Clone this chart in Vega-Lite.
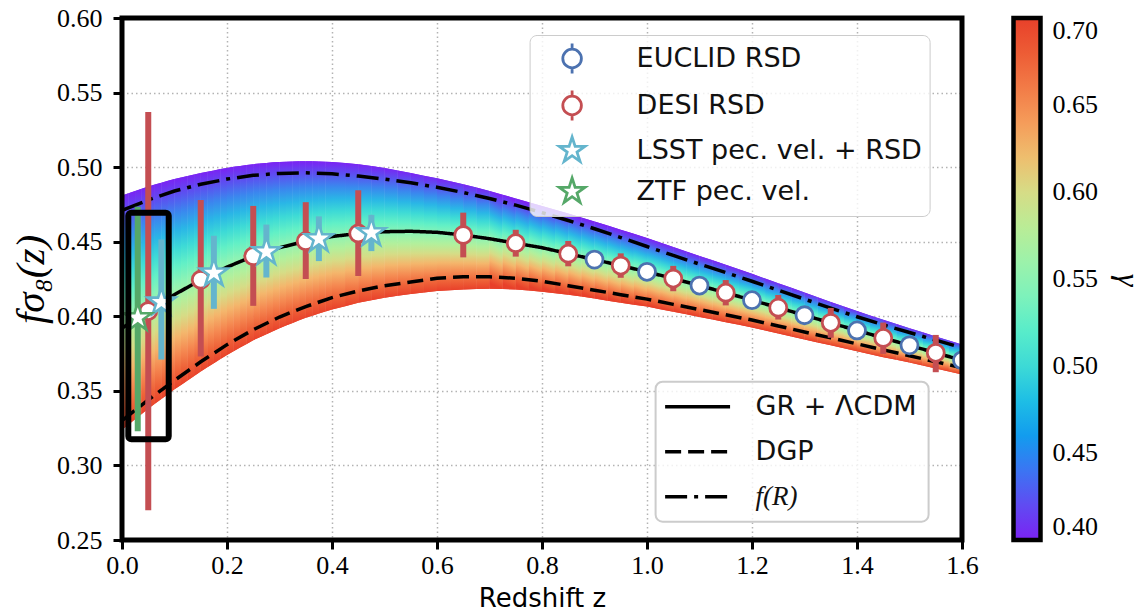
{
  "$schema": "https://vega.github.io/schema/vega-lite/v6.json",
  "width": 840,
  "height": 522,
  "autosize": {"type": "none"},
  "padding": {"left": 122, "top": 18, "right": 185, "bottom": 73},
  "background": "white",
  "config": {
    "view": {"stroke": null},
    "axis": {
      "domain": false,
      "grid": true,
      "gridColor": "#b3b3b3",
      "gridDash": [1.5, 3],
      "gridWidth": 1.5,
      "tickColor": "black",
      "tickWidth": 3,
      "tickSize": 9,
      "labelFont": "Liberation Serif",
      "labelFontSize": 26,
      "labelColor": "black",
      "labelFlush": false,
      "labelOverlap": false,
      "titleColor": "black"
    }
  },
  "datasets": {
    "band": [
      {"s": 0, "z": 0, "t": 0.481, "b": 0.324}, {"s": 0, "z": 0.0125, "t": 0.4825, "b": 0.3275},
      {"s": 1, "z": 0.0125, "t": 0.4825, "b": 0.3275}, {"s": 1, "z": 0.025, "t": 0.484, "b": 0.331},
      {"s": 2, "z": 0.025, "t": 0.484, "b": 0.331}, {"s": 2, "z": 0.0375, "t": 0.4855, "b": 0.3345},
      {"s": 3, "z": 0.0375, "t": 0.4855, "b": 0.3345}, {"s": 3, "z": 0.05, "t": 0.487, "b": 0.338},
      {"s": 4, "z": 0.05, "t": 0.487, "b": 0.338}, {"s": 4, "z": 0.0625, "t": 0.4883, "b": 0.3413},
      {"s": 5, "z": 0.0625, "t": 0.4883, "b": 0.3413}, {"s": 5, "z": 0.075, "t": 0.4895, "b": 0.3445},
      {"s": 6, "z": 0.075, "t": 0.4895, "b": 0.3445}, {"s": 6, "z": 0.0875, "t": 0.4908, "b": 0.3478},
      {"s": 7, "z": 0.0875, "t": 0.4908, "b": 0.3478}, {"s": 7, "z": 0.1, "t": 0.492, "b": 0.351},
      {"s": 8, "z": 0.1, "t": 0.492, "b": 0.351}, {"s": 8, "z": 0.1125, "t": 0.493, "b": 0.354},
      {"s": 9, "z": 0.1125, "t": 0.493, "b": 0.354}, {"s": 9, "z": 0.125, "t": 0.494, "b": 0.357},
      {"s": 10, "z": 0.125, "t": 0.494, "b": 0.357}, {"s": 10, "z": 0.1375, "t": 0.495, "b": 0.36},
      {"s": 11, "z": 0.1375, "t": 0.495, "b": 0.36}, {"s": 11, "z": 0.15, "t": 0.496, "b": 0.363},
      {"s": 12, "z": 0.15, "t": 0.496, "b": 0.363}, {"s": 12, "z": 0.1625, "t": 0.4969, "b": 0.3658},
      {"s": 13, "z": 0.1625, "t": 0.4969, "b": 0.3658}, {"s": 13, "z": 0.175, "t": 0.4978, "b": 0.3685},
      {"s": 14, "z": 0.175, "t": 0.4978, "b": 0.3685}, {"s": 14, "z": 0.1875, "t": 0.4987, "b": 0.3713},
      {"s": 15, "z": 0.1875, "t": 0.4987, "b": 0.3713}, {"s": 15, "z": 0.2, "t": 0.4995, "b": 0.374},
      {"s": 16, "z": 0.2, "t": 0.4995, "b": 0.374}, {"s": 16, "z": 0.2125, "t": 0.5002, "b": 0.3765},
      {"s": 17, "z": 0.2125, "t": 0.5002, "b": 0.3765}, {"s": 17, "z": 0.225, "t": 0.5008, "b": 0.379},
      {"s": 18, "z": 0.225, "t": 0.5008, "b": 0.379}, {"s": 18, "z": 0.2375, "t": 0.5014, "b": 0.3815},
      {"s": 19, "z": 0.2375, "t": 0.5014, "b": 0.3815}, {"s": 19, "z": 0.25, "t": 0.502, "b": 0.384},
      {"s": 20, "z": 0.25, "t": 0.502, "b": 0.384}, {"s": 20, "z": 0.2625, "t": 0.5024, "b": 0.386},
      {"s": 21, "z": 0.2625, "t": 0.5024, "b": 0.386}, {"s": 21, "z": 0.275, "t": 0.5028, "b": 0.388},
      {"s": 22, "z": 0.275, "t": 0.5028, "b": 0.388}, {"s": 22, "z": 0.2875, "t": 0.5032, "b": 0.39},
      {"s": 23, "z": 0.2875, "t": 0.5032, "b": 0.39}, {"s": 23, "z": 0.3, "t": 0.5035, "b": 0.392},
      {"s": 24, "z": 0.3, "t": 0.5035, "b": 0.392}, {"s": 24, "z": 0.3125, "t": 0.5037, "b": 0.3938},
      {"s": 25, "z": 0.3125, "t": 0.5037, "b": 0.3938}, {"s": 25, "z": 0.325, "t": 0.5038, "b": 0.3955},
      {"s": 26, "z": 0.325, "t": 0.5038, "b": 0.3955}, {"s": 26, "z": 0.3375, "t": 0.5039, "b": 0.3973},
      {"s": 27, "z": 0.3375, "t": 0.5039, "b": 0.3973}, {"s": 27, "z": 0.35, "t": 0.504, "b": 0.399},
      {"s": 28, "z": 0.35, "t": 0.504, "b": 0.399}, {"s": 28, "z": 0.3625, "t": 0.5039, "b": 0.4004},
      {"s": 29, "z": 0.3625, "t": 0.5039, "b": 0.4004}, {"s": 29, "z": 0.375, "t": 0.5038, "b": 0.4018},
      {"s": 30, "z": 0.375, "t": 0.5038, "b": 0.4018}, {"s": 30, "z": 0.3875, "t": 0.5037, "b": 0.4032},
      {"s": 31, "z": 0.3875, "t": 0.5037, "b": 0.4032}, {"s": 31, "z": 0.4, "t": 0.5035, "b": 0.4045},
      {"s": 32, "z": 0.4, "t": 0.5035, "b": 0.4045}, {"s": 32, "z": 0.425, "t": 0.5028, "b": 0.4068},
      {"s": 33, "z": 0.425, "t": 0.5028, "b": 0.4068}, {"s": 33, "z": 0.45, "t": 0.502, "b": 0.409},
      {"s": 34, "z": 0.45, "t": 0.502, "b": 0.409}, {"s": 34, "z": 0.475, "t": 0.5008, "b": 0.4108},
      {"s": 35, "z": 0.475, "t": 0.5008, "b": 0.4108}, {"s": 35, "z": 0.5, "t": 0.4995, "b": 0.4125},
      {"s": 36, "z": 0.5, "t": 0.4995, "b": 0.4125}, {"s": 36, "z": 0.525, "t": 0.4978, "b": 0.4138},
      {"s": 37, "z": 0.525, "t": 0.4978, "b": 0.4138}, {"s": 37, "z": 0.55, "t": 0.496, "b": 0.415},
      {"s": 38, "z": 0.55, "t": 0.496, "b": 0.415}, {"s": 38, "z": 0.575, "t": 0.4943, "b": 0.416},
      {"s": 39, "z": 0.575, "t": 0.4943, "b": 0.416}, {"s": 39, "z": 0.6, "t": 0.4925, "b": 0.417},
      {"s": 40, "z": 0.6, "t": 0.4925, "b": 0.417}, {"s": 40, "z": 0.625, "t": 0.4905, "b": 0.4175},
      {"s": 41, "z": 0.625, "t": 0.4905, "b": 0.4175}, {"s": 41, "z": 0.65, "t": 0.4885, "b": 0.418},
      {"s": 42, "z": 0.65, "t": 0.4885, "b": 0.418}, {"s": 42, "z": 0.675, "t": 0.4863, "b": 0.4183},
      {"s": 43, "z": 0.675, "t": 0.4863, "b": 0.4183}, {"s": 43, "z": 0.7, "t": 0.484, "b": 0.4185},
      {"s": 44, "z": 0.7, "t": 0.484, "b": 0.4185}, {"s": 44, "z": 0.725, "t": 0.4815, "b": 0.4183},
      {"s": 45, "z": 0.725, "t": 0.4815, "b": 0.4183}, {"s": 45, "z": 0.75, "t": 0.479, "b": 0.418},
      {"s": 46, "z": 0.75, "t": 0.479, "b": 0.418}, {"s": 46, "z": 0.775, "t": 0.4765, "b": 0.4173},
      {"s": 47, "z": 0.775, "t": 0.4765, "b": 0.4173}, {"s": 47, "z": 0.8, "t": 0.474, "b": 0.4165},
      {"s": 48, "z": 0.8, "t": 0.474, "b": 0.4165}, {"s": 48, "z": 0.825, "t": 0.4715, "b": 0.4155},
      {"s": 49, "z": 0.825, "t": 0.4715, "b": 0.4155}, {"s": 49, "z": 0.85, "t": 0.469, "b": 0.4145},
      {"s": 50, "z": 0.85, "t": 0.469, "b": 0.4145}, {"s": 50, "z": 0.875, "t": 0.4663, "b": 0.4133},
      {"s": 51, "z": 0.875, "t": 0.4663, "b": 0.4133}, {"s": 51, "z": 0.9, "t": 0.4635, "b": 0.412},
      {"s": 52, "z": 0.9, "t": 0.4635, "b": 0.412}, {"s": 52, "z": 0.925, "t": 0.4608, "b": 0.4105},
      {"s": 53, "z": 0.925, "t": 0.4608, "b": 0.4105}, {"s": 53, "z": 0.95, "t": 0.458, "b": 0.409},
      {"s": 54, "z": 0.95, "t": 0.458, "b": 0.409}, {"s": 54, "z": 0.975, "t": 0.4553, "b": 0.4078},
      {"s": 55, "z": 0.975, "t": 0.4553, "b": 0.4078}, {"s": 55, "z": 1.0, "t": 0.4525, "b": 0.4065},
      {"s": 56, "z": 1.0, "t": 0.4525, "b": 0.4065}, {"s": 56, "z": 1.025, "t": 0.4495, "b": 0.4048},
      {"s": 57, "z": 1.025, "t": 0.4495, "b": 0.4048}, {"s": 57, "z": 1.05, "t": 0.4465, "b": 0.403},
      {"s": 58, "z": 1.05, "t": 0.4465, "b": 0.403}, {"s": 58, "z": 1.075, "t": 0.4435, "b": 0.4013},
      {"s": 59, "z": 1.075, "t": 0.4435, "b": 0.4013}, {"s": 59, "z": 1.1, "t": 0.4405, "b": 0.3995},
      {"s": 60, "z": 1.1, "t": 0.4405, "b": 0.3995}, {"s": 60, "z": 1.125, "t": 0.4375, "b": 0.3978},
      {"s": 61, "z": 1.125, "t": 0.4375, "b": 0.3978}, {"s": 61, "z": 1.15, "t": 0.4345, "b": 0.396},
      {"s": 62, "z": 1.15, "t": 0.4345, "b": 0.396}, {"s": 62, "z": 1.175, "t": 0.4315, "b": 0.3943},
      {"s": 63, "z": 1.175, "t": 0.4315, "b": 0.3943}, {"s": 63, "z": 1.2, "t": 0.4285, "b": 0.3925},
      {"s": 64, "z": 1.2, "t": 0.4285, "b": 0.3925}, {"s": 64, "z": 1.225, "t": 0.4253, "b": 0.3905},
      {"s": 65, "z": 1.225, "t": 0.4253, "b": 0.3905}, {"s": 65, "z": 1.25, "t": 0.4222, "b": 0.3885},
      {"s": 66, "z": 1.25, "t": 0.4222, "b": 0.3885}, {"s": 66, "z": 1.275, "t": 0.4191, "b": 0.3865},
      {"s": 67, "z": 1.275, "t": 0.4191, "b": 0.3865}, {"s": 67, "z": 1.3, "t": 0.416, "b": 0.3845},
      {"s": 68, "z": 1.3, "t": 0.416, "b": 0.3845}, {"s": 68, "z": 1.325, "t": 0.4128, "b": 0.3825},
      {"s": 69, "z": 1.325, "t": 0.4128, "b": 0.3825}, {"s": 69, "z": 1.35, "t": 0.4095, "b": 0.3805},
      {"s": 70, "z": 1.35, "t": 0.4095, "b": 0.3805}, {"s": 70, "z": 1.375, "t": 0.4065, "b": 0.3785},
      {"s": 71, "z": 1.375, "t": 0.4065, "b": 0.3785}, {"s": 71, "z": 1.4, "t": 0.4035, "b": 0.3765},
      {"s": 72, "z": 1.4, "t": 0.4035, "b": 0.3765}, {"s": 72, "z": 1.425, "t": 0.4006, "b": 0.3745},
      {"s": 73, "z": 1.425, "t": 0.4006, "b": 0.3745}, {"s": 73, "z": 1.45, "t": 0.3977, "b": 0.3725},
      {"s": 74, "z": 1.45, "t": 0.3977, "b": 0.3725}, {"s": 74, "z": 1.475, "t": 0.3948, "b": 0.3708},
      {"s": 75, "z": 1.475, "t": 0.3948, "b": 0.3708}, {"s": 75, "z": 1.5, "t": 0.392, "b": 0.369},
      {"s": 76, "z": 1.5, "t": 0.392, "b": 0.369}, {"s": 76, "z": 1.525, "t": 0.3893, "b": 0.367},
      {"s": 77, "z": 1.525, "t": 0.3893, "b": 0.367}, {"s": 77, "z": 1.55, "t": 0.3865, "b": 0.365},
      {"s": 78, "z": 1.55, "t": 0.3865, "b": 0.365}, {"s": 78, "z": 1.575, "t": 0.3838, "b": 0.363},
      {"s": 79, "z": 1.575, "t": 0.3838, "b": 0.363}, {"s": 79, "z": 1.6, "t": 0.381, "b": 0.361}
    ],
    "lines": [
      {"m": "GR + ΛCDM", "z": 0, "v": 0.392}, {"m": "GR + ΛCDM", "z": 0.05, "v": 0.4035}, {"m": "GR + ΛCDM", "z": 0.1, "v": 0.4145},
      {"m": "GR + ΛCDM", "z": 0.15, "v": 0.4245}, {"m": "GR + ΛCDM", "z": 0.2, "v": 0.433}, {"m": "GR + ΛCDM", "z": 0.25, "v": 0.4403},
      {"m": "GR + ΛCDM", "z": 0.3, "v": 0.446}, {"m": "GR + ΛCDM", "z": 0.35, "v": 0.4503}, {"m": "GR + ΛCDM", "z": 0.4, "v": 0.4535},
      {"m": "GR + ΛCDM", "z": 0.45, "v": 0.4555}, {"m": "GR + ΛCDM", "z": 0.5, "v": 0.4567}, {"m": "GR + ΛCDM", "z": 0.55, "v": 0.457},
      {"m": "GR + ΛCDM", "z": 0.6, "v": 0.4563}, {"m": "GR + ΛCDM", "z": 0.65, "v": 0.4545}, {"m": "GR + ΛCDM", "z": 0.7, "v": 0.452},
      {"m": "GR + ΛCDM", "z": 0.75, "v": 0.449}, {"m": "GR + ΛCDM", "z": 0.8, "v": 0.446}, {"m": "GR + ΛCDM", "z": 0.85, "v": 0.442},
      {"m": "GR + ΛCDM", "z": 0.9, "v": 0.438}, {"m": "GR + ΛCDM", "z": 0.95, "v": 0.434}, {"m": "GR + ΛCDM", "z": 1.0, "v": 0.4298},
      {"m": "GR + ΛCDM", "z": 1.05, "v": 0.4253}, {"m": "GR + ΛCDM", "z": 1.1, "v": 0.4206}, {"m": "GR + ΛCDM", "z": 1.15, "v": 0.4158},
      {"m": "GR + ΛCDM", "z": 1.2, "v": 0.4108}, {"m": "GR + ΛCDM", "z": 1.25, "v": 0.4058}, {"m": "GR + ΛCDM", "z": 1.3, "v": 0.4007},
      {"m": "GR + ΛCDM", "z": 1.35, "v": 0.3956}, {"m": "GR + ΛCDM", "z": 1.4, "v": 0.3905}, {"m": "GR + ΛCDM", "z": 1.45, "v": 0.3855},
      {"m": "GR + ΛCDM", "z": 1.5, "v": 0.3805}, {"m": "GR + ΛCDM", "z": 1.55, "v": 0.3755}, {"m": "GR + ΛCDM", "z": 1.6, "v": 0.3705},
      {"m": "DGP", "z": 0, "v": 0.330}, {"m": "DGP", "z": 0.05, "v": 0.344}, {"m": "DGP", "z": 0.1, "v": 0.357},
      {"m": "DGP", "z": 0.15, "v": 0.3695}, {"m": "DGP", "z": 0.2, "v": 0.381}, {"m": "DGP", "z": 0.25, "v": 0.391},
      {"m": "DGP", "z": 0.3, "v": 0.3995}, {"m": "DGP", "z": 0.35, "v": 0.4065}, {"m": "DGP", "z": 0.4, "v": 0.4125},
      {"m": "DGP", "z": 0.45, "v": 0.417}, {"m": "DGP", "z": 0.5, "v": 0.4205}, {"m": "DGP", "z": 0.55, "v": 0.423},
      {"m": "DGP", "z": 0.6, "v": 0.4255}, {"m": "DGP", "z": 0.65, "v": 0.4265}, {"m": "DGP", "z": 0.7, "v": 0.4265},
      {"m": "DGP", "z": 0.75, "v": 0.4255}, {"m": "DGP", "z": 0.8, "v": 0.4235}, {"m": "DGP", "z": 0.85, "v": 0.4205},
      {"m": "DGP", "z": 0.9, "v": 0.4175}, {"m": "DGP", "z": 0.95, "v": 0.4145}, {"m": "DGP", "z": 1.0, "v": 0.4115},
      {"m": "DGP", "z": 1.05, "v": 0.408}, {"m": "DGP", "z": 1.1, "v": 0.4045}, {"m": "DGP", "z": 1.15, "v": 0.401},
      {"m": "DGP", "z": 1.2, "v": 0.3975}, {"m": "DGP", "z": 1.25, "v": 0.3935}, {"m": "DGP", "z": 1.3, "v": 0.3895},
      {"m": "DGP", "z": 1.35, "v": 0.3855}, {"m": "DGP", "z": 1.4, "v": 0.3815}, {"m": "DGP", "z": 1.45, "v": 0.3775},
      {"m": "DGP", "z": 1.5, "v": 0.3735}, {"m": "DGP", "z": 1.55, "v": 0.3695}, {"m": "DGP", "z": 1.6, "v": 0.3655},
      {"m": "f(R)", "z": 0, "v": 0.471}, {"m": "f(R)", "z": 0.05, "v": 0.478}, {"m": "f(R)", "z": 0.1, "v": 0.484},
      {"m": "f(R)", "z": 0.15, "v": 0.4885}, {"m": "f(R)", "z": 0.2, "v": 0.492}, {"m": "f(R)", "z": 0.25, "v": 0.4945},
      {"m": "f(R)", "z": 0.3, "v": 0.4958}, {"m": "f(R)", "z": 0.35, "v": 0.4962}, {"m": "f(R)", "z": 0.4, "v": 0.4955},
      {"m": "f(R)", "z": 0.45, "v": 0.494}, {"m": "f(R)", "z": 0.5, "v": 0.492}, {"m": "f(R)", "z": 0.55, "v": 0.4895},
      {"m": "f(R)", "z": 0.6, "v": 0.4865}, {"m": "f(R)", "z": 0.65, "v": 0.483}, {"m": "f(R)", "z": 0.7, "v": 0.479},
      {"m": "f(R)", "z": 0.75, "v": 0.4745}, {"m": "f(R)", "z": 0.8, "v": 0.4695}, {"m": "f(R)", "z": 0.85, "v": 0.4642},
      {"m": "f(R)", "z": 0.9, "v": 0.4587}, {"m": "f(R)", "z": 0.95, "v": 0.4528}, {"m": "f(R)", "z": 1.0, "v": 0.4468},
      {"m": "f(R)", "z": 1.05, "v": 0.4408}, {"m": "f(R)", "z": 1.1, "v": 0.435}, {"m": "f(R)", "z": 1.15, "v": 0.4293},
      {"m": "f(R)", "z": 1.2, "v": 0.4235}, {"m": "f(R)", "z": 1.25, "v": 0.4175}, {"m": "f(R)", "z": 1.3, "v": 0.4115},
      {"m": "f(R)", "z": 1.35, "v": 0.4055}, {"m": "f(R)", "z": 1.4, "v": 0.3997}, {"m": "f(R)", "z": 1.45, "v": 0.3943},
      {"m": "f(R)", "z": 1.5, "v": 0.3891}, {"m": "f(R)", "z": 1.55, "v": 0.384}, {"m": "f(R)", "z": 1.6, "v": 0.379}
    ],
    "obs": [
      {"sv": "DESI RSD", "z": 0.05, "v": 0.4035, "lo": 0.270, "hi": 0.537},
      {"sv": "DESI RSD", "z": 0.15, "v": 0.4245, "lo": 0.373, "hi": 0.478},
      {"sv": "DESI RSD", "z": 0.25, "v": 0.4403, "lo": 0.407, "hi": 0.474},
      {"sv": "DESI RSD", "z": 0.35, "v": 0.4503, "lo": 0.425, "hi": 0.4765},
      {"sv": "DESI RSD", "z": 0.45, "v": 0.4555, "lo": 0.427, "hi": 0.4845},
      {"sv": "DESI RSD", "z": 0.65, "v": 0.4545, "lo": 0.4395, "hi": 0.4695},
      {"sv": "DESI RSD", "z": 0.75, "v": 0.449, "lo": 0.440, "hi": 0.458},
      {"sv": "DESI RSD", "z": 0.85, "v": 0.442, "lo": 0.4335, "hi": 0.4505},
      {"sv": "DESI RSD", "z": 0.95, "v": 0.434, "lo": 0.4258, "hi": 0.4422},
      {"sv": "DESI RSD", "z": 1.05, "v": 0.4253, "lo": 0.4168, "hi": 0.4338},
      {"sv": "DESI RSD", "z": 1.15, "v": 0.4158, "lo": 0.4073, "hi": 0.4243},
      {"sv": "DESI RSD", "z": 1.25, "v": 0.4058, "lo": 0.3978, "hi": 0.4143},
      {"sv": "DESI RSD", "z": 1.35, "v": 0.3956, "lo": 0.3856, "hi": 0.4056},
      {"sv": "DESI RSD", "z": 1.45, "v": 0.3855, "lo": 0.3748, "hi": 0.3958},
      {"sv": "DESI RSD", "z": 1.55, "v": 0.3755, "lo": 0.3625, "hi": 0.3875},
      {"sv": "EUCLID RSD", "z": 0.9, "v": 0.438, "lo": 0.4345, "hi": 0.4415},
      {"sv": "EUCLID RSD", "z": 1.0, "v": 0.4298, "lo": 0.4263, "hi": 0.4333},
      {"sv": "EUCLID RSD", "z": 1.1, "v": 0.4206, "lo": 0.4171, "hi": 0.4241},
      {"sv": "EUCLID RSD", "z": 1.2, "v": 0.4108, "lo": 0.4073, "hi": 0.4143},
      {"sv": "EUCLID RSD", "z": 1.3, "v": 0.4007, "lo": 0.3972, "hi": 0.4042},
      {"sv": "EUCLID RSD", "z": 1.4, "v": 0.3905, "lo": 0.387, "hi": 0.394},
      {"sv": "EUCLID RSD", "z": 1.5, "v": 0.3805, "lo": 0.377, "hi": 0.384},
      {"sv": "EUCLID RSD", "z": 1.6, "v": 0.3705, "lo": 0.367, "hi": 0.374},
      {"sv": "LSST pec. vel. + RSD", "z": 0.075, "v": 0.4095, "lo": 0.371, "hi": 0.4515},
      {"sv": "LSST pec. vel. + RSD", "z": 0.175, "v": 0.429, "lo": 0.405, "hi": 0.454},
      {"sv": "LSST pec. vel. + RSD", "z": 0.275, "v": 0.4433, "lo": 0.426, "hi": 0.4615},
      {"sv": "LSST pec. vel. + RSD", "z": 0.375, "v": 0.452, "lo": 0.437, "hi": 0.467},
      {"sv": "LSST pec. vel. + RSD", "z": 0.475, "v": 0.456, "lo": 0.4437, "hi": 0.468},
      {"sv": "ZTF pec. vel.", "z": 0.03, "v": 0.399, "lo": 0.323, "hi": 0.4735}
    ]
  },
  "layer": [
    {
      "data": {"name": "band"},
      "transform": [{"filter": "datum.s < 44"}],
      "mark": {
        "type": "area", "clip": true, "line": false,
        "color": {"gradient": "linear", "x1": 0, "y1": 0, "x2": 0, "y2": 1, "stops": [
          {"offset": 0, "color": "#7b22f3"}, {"offset": 0.0833, "color": "#5a52f0"}, {"offset": 0.1667, "color": "#3a88ee"},
          {"offset": 0.25, "color": "#2ab6e6"}, {"offset": 0.3333, "color": "#3ddad6"}, {"offset": 0.4167, "color": "#62f0c6"},
          {"offset": 0.5, "color": "#8ef3b4"}, {"offset": 0.5833, "color": "#b2f09c"}, {"offset": 0.6667, "color": "#d6dc86"},
          {"offset": 0.75, "color": "#f4b66c"}, {"offset": 0.8333, "color": "#f58a52"}, {"offset": 0.9167, "color": "#ee6238"},
          {"offset": 1, "color": "#e8402a"}]}
      },
      "encoding": {
        "x": {
          "field": "z", "type": "quantitative",
          "scale": {"domain": [0, 1.6], "nice": false, "zero": false},
          "axis": {
            "values": [0, 0.2, 0.4, 0.6, 0.8, 1.0, 1.2, 1.4, 1.6], "format": ".1f",
            "labelPadding": 3,
            "title": "Redshift z", "titleFont": "DejaVu Sans", "titleFontSize": 26, "titleFontWeight": "normal",
            "titleY": 66, "titleBaseline": "alphabetic"
          }
        },
        "y": {
          "field": "t", "type": "quantitative",
          "scale": {"domain": [0.25, 0.6], "nice": false, "zero": false},
          "axis": {
            "values": [0.25, 0.3, 0.35, 0.4, 0.45, 0.5, 0.55, 0.6], "format": ".2f",
            "labelPadding": 11,
            "title": "fσ₈(z)", "titleFont": "Liberation Serif", "titleFontStyle": "italic", "titleFontSize": 41,
            "titleFontWeight": "normal", "titleAngle": 270, "titleX": -91, "titleY": 261,
            "titleAlign": "center", "titleBaseline": "middle"
          }
        },
        "y2": {"field": "b"},
        "detail": {"field": "s", "type": "nominal"}
      }
    },
    {
      "data": {"name": "band"},
      "transform": [{"filter": "datum.s < 44"}],
      "mark": {
        "type": "area", "clip": true, "line": false,
        "color": {"gradient": "linear", "x1": 0, "y1": 0, "x2": 0, "y2": 1, "stops": [
          {"offset": 0, "color": "#7b22f3"}, {"offset": 0.0833, "color": "#5a52f0"}, {"offset": 0.1667, "color": "#3a88ee"},
          {"offset": 0.25, "color": "#2ab6e6"}, {"offset": 0.3333, "color": "#3ddad6"}, {"offset": 0.4167, "color": "#62f0c6"},
          {"offset": 0.5, "color": "#8ef3b4"}, {"offset": 0.5833, "color": "#b2f09c"}, {"offset": 0.6667, "color": "#d6dc86"},
          {"offset": 0.75, "color": "#f4b66c"}, {"offset": 0.8333, "color": "#f58a52"}, {"offset": 0.9167, "color": "#ee6238"},
          {"offset": 1, "color": "#e8402a"}]}
      },
      "encoding": {
        "x": {"field": "z", "type": "quantitative"},
        "y": {"field": "t", "type": "quantitative"},
        "y2": {"field": "b"},
        "detail": {"field": "s", "type": "nominal"}
      }
    },
    {
      "data": {"name": "band"},
      "transform": [{"filter": "datum.s >= 44"}],
      "mark": {
        "type": "area", "clip": true, "line": false,
        "color": {"gradient": "linear", "x1": 0, "y1": 0, "x2": -0.0562, "y2": 0.9366, "stops": [
          {"offset": 0, "color": "#7b22f3"}, {"offset": 0.0833, "color": "#5a52f0"}, {"offset": 0.1667, "color": "#3a88ee"},
          {"offset": 0.25, "color": "#2ab6e6"}, {"offset": 0.3333, "color": "#3ddad6"}, {"offset": 0.4167, "color": "#62f0c6"},
          {"offset": 0.5, "color": "#8ef3b4"}, {"offset": 0.5833, "color": "#b2f09c"}, {"offset": 0.6667, "color": "#d6dc86"},
          {"offset": 0.75, "color": "#f4b66c"}, {"offset": 0.8333, "color": "#f58a52"}, {"offset": 0.9167, "color": "#ee6238"},
          {"offset": 1, "color": "#e8402a"}]}
      },
      "encoding": {
        "x": {"field": "z", "type": "quantitative"},
        "y": {"field": "t", "type": "quantitative"},
        "y2": {"field": "b"},
        "detail": {"field": "s", "type": "nominal"}
      }
    },
    {
      "data": {"name": "band"},
      "transform": [{"filter": "datum.s >= 44"}],
      "mark": {
        "type": "area", "clip": true, "line": false,
        "color": {"gradient": "linear", "x1": 0, "y1": 0, "x2": -0.0562, "y2": 0.9366, "stops": [
          {"offset": 0, "color": "#7b22f3"}, {"offset": 0.0833, "color": "#5a52f0"}, {"offset": 0.1667, "color": "#3a88ee"},
          {"offset": 0.25, "color": "#2ab6e6"}, {"offset": 0.3333, "color": "#3ddad6"}, {"offset": 0.4167, "color": "#62f0c6"},
          {"offset": 0.5, "color": "#8ef3b4"}, {"offset": 0.5833, "color": "#b2f09c"}, {"offset": 0.6667, "color": "#d6dc86"},
          {"offset": 0.75, "color": "#f4b66c"}, {"offset": 0.8333, "color": "#f58a52"}, {"offset": 0.9167, "color": "#ee6238"},
          {"offset": 1, "color": "#e8402a"}]}
      },
      "encoding": {
        "x": {"field": "z", "type": "quantitative"},
        "y": {"field": "t", "type": "quantitative"},
        "y2": {"field": "b"},
        "detail": {"field": "s", "type": "nominal"}
      }
    },
    {
      "data": {"name": "lines"},
      "mark": {"type": "line", "clip": true, "color": "black", "strokeWidth": 3.5},
      "encoding": {
        "x": {"field": "z", "type": "quantitative"},
        "y": {"field": "v", "type": "quantitative"},
        "strokeDash": {
          "field": "m", "type": "nominal",
          "scale": {"domain": ["GR + ΛCDM", "DGP", "f(R)"], "range": [[1, 0], [16, 7], [22, 7, 4, 7]]},
          "legend": {
            "orient": "none", "legendX": 533.6, "legendY": 363.7, "title": null,
            "padding": 11.5, "fillColor": "rgba(255,255,255,0.8)", "strokeColor": "#cccccc", "cornerRadius": 7,
            "labelFont": "DejaVu Sans", "labelFontSize": 27, "labelColor": "#111", "labelLimit": 400,
            "symbolType": "M-4.33,0L4.33,0", "symbolSize": 225, "symbolStrokeColor": "black", "symbolStrokeWidth": 3.5,
            "symbolOffset": 17, "labelOffset": 44.5, "rowPadding": 17,
            "encode": {
              "legend": {"update": {"strokeWidth": {"value": 2}}},
              "labels": {"update": {
                "font": [{"test": "datum.label === 'f(R)'", "value": "Liberation Serif"}, {"value": "DejaVu Sans"}],
                "fontStyle": [{"test": "datum.label === 'f(R)'", "value": "italic"}, {"value": "normal"}]
              }}
            }
          }
        }
      }
    },
    {
      "data": {"name": "obs"},
      "mark": {"type": "rule", "strokeWidth": 6, "clip": true},
      "encoding": {
        "x": {"field": "z", "type": "quantitative"},
        "y": {"field": "lo", "type": "quantitative"},
        "y2": {"field": "hi"},
        "stroke": {
          "condition": [
            {"test": "datum.sv === 'DESI RSD'", "value": "#c44e52"},
            {"test": "datum.sv === 'EUCLID RSD'", "value": "#4c72b0"},
            {"test": "datum.sv === 'LSST pec. vel. + RSD'", "value": "#64b5cd"}
          ],
          "value": "#55a868"
        }
      }
    },
    {
      "data": {"name": "obs"},
      "mark": {"type": "point", "opacity": 0, "fill": "white", "strokeWidth": 2.8},
      "encoding": {
        "x": {"field": "z", "type": "quantitative"},
        "y": {"field": "v", "type": "quantitative"},
        "stroke": {
          "field": "sv", "type": "nominal",
          "scale": {"domain": ["EUCLID RSD", "DESI RSD", "LSST pec. vel. + RSD", "ZTF pec. vel."], "range": ["#4c72b0", "#c44e52", "#64b5cd", "#55a868"]},
          "legend": {
            "orient": "none", "legendX": 407.6, "legendY": 17, "title": null,
            "padding": 7, "fillColor": "rgba(255,255,255,0.8)", "strokeColor": "#cccccc", "cornerRadius": 7,
            "labelFont": "DejaVu Sans", "labelFontSize": 27, "labelColor": "#111", "labelLimit": 400,
            "symbolSize": 900, "symbolFillColor": "white", "symbolOpacity": 1, "symbolStrokeWidth": 2.8,
            "symbolOffset": 19, "labelOffset": 48, "rowPadding": 4,
            "encode": {"legend": {"update": {"strokeWidth": {"value": 2}}}}
          }
        },
        "shape": {
          "field": "sv", "type": "nominal",
          "scale": {"domain": ["EUCLID RSD", "DESI RSD", "LSST pec. vel. + RSD", "ZTF pec. vel."], "range": [
            "M-0.62,0A0.62,0.62,0,1,0,0.62,0A0.62,0.62,0,1,0,-0.62,0ZM0,-0.62L0,-1M0,0.62L0,1",
            "M-0.62,0A0.62,0.62,0,1,0,0.62,0A0.62,0.62,0,1,0,-0.62,0ZM0,-0.62L0,-1M0,0.62L0,1",
            "M0,-0.9L0.202,-0.278L0.856,-0.278L0.327,0.106L0.529,0.728L0,0.344L-0.529,0.728L-0.327,0.106L-0.856,-0.278L-0.202,-0.278Z",
            "M0,-0.9L0.202,-0.278L0.856,-0.278L0.327,0.106L0.529,0.728L0,0.344L-0.529,0.728L-0.327,0.106L-0.856,-0.278L-0.202,-0.278Z"]},
          "legend": {
            "orient": "none", "legendX": 407.6, "legendY": 17, "title": null,
            "padding": 7, "fillColor": "rgba(255,255,255,0.8)", "strokeColor": "#cccccc", "cornerRadius": 7,
            "labelFont": "DejaVu Sans", "labelFontSize": 27, "labelColor": "#111", "labelLimit": 400,
            "symbolSize": 900, "symbolFillColor": "white", "symbolOpacity": 1, "symbolStrokeWidth": 2.8,
            "symbolOffset": 19, "labelOffset": 48, "rowPadding": 4,
            "encode": {"legend": {"update": {"strokeWidth": {"value": 2}}}}
          }
        }
      }
    },
    {
      "data": {"name": "obs"},
      "transform": [{"filter": {"field": "sv", "oneOf": ["DESI RSD", "EUCLID RSD"]}}],
      "mark": {"type": "point", "shape": "circle", "size": 289, "fill": "white", "fillOpacity": 1, "opacity": 1, "strokeWidth": 2.8, "clip": true},
      "encoding": {
        "x": {"field": "z", "type": "quantitative"},
        "y": {"field": "v", "type": "quantitative"},
        "stroke": {
          "condition": [{"test": "datum.sv === 'DESI RSD'", "value": "#c44e52"}],
          "value": "#4c72b0"
        }
      }
    },
    {
      "data": {"name": "obs"},
      "transform": [{"filter": {"field": "sv", "oneOf": ["LSST pec. vel. + RSD", "ZTF pec. vel."]}}],
      "mark": {"type": "point", "shape": "M0,-1L0.2245,-0.309L0.9511,-0.309L0.3633,0.118L0.5878,0.809L0,0.382L-0.5878,0.809L-0.3633,0.118L-0.9511,-0.309L-0.2245,-0.309Z", "size": 850, "fill": "white", "fillOpacity": 1, "opacity": 1, "strokeWidth": 2.6, "clip": true},
      "encoding": {
        "x": {"field": "z", "type": "quantitative"},
        "y": {"field": "v", "type": "quantitative"},
        "stroke": {
          "condition": [{"test": "datum.sv === 'LSST pec. vel. + RSD'", "value": "#64b5cd"}],
          "value": "#55a868"
        }
      }
    },
    {
      "data": {"values": [{"g": 0.4}, {"g": 0.7}]},
      "mark": {"type": "point", "size": 0, "strokeWidth": 0, "filled": true, "opacity": 1},
      "encoding": {
        "color": {
          "field": "g", "type": "quantitative",
          "scale": {"domain": [0.4, 0.425, 0.45, 0.475, 0.5, 0.525, 0.55, 0.575, 0.6, 0.625, 0.65, 0.675, 0.7],
                    "range": ["#7b22f3", "#5a52f0", "#3a88ee", "#2ab6e6", "#3ddad6", "#62f0c6", "#8ef3b4", "#b2f09c", "#d6dc86", "#f4b66c", "#f58a52", "#ee6238", "#e8402a"]},
          "legend": {
            "orient": "none", "legendX": 891.5, "legendY": 0, "direction": "vertical", "padding": 0,
            "gradientLength": 522, "gradientThickness": 27, "gradientStrokeColor": "black", "gradientStrokeWidth": 4.5,
            "values": [0.4, 0.45, 0.5, 0.55, 0.6, 0.65, 0.7], "format": ".2f",
            "labelFont": "Liberation Serif", "labelFontSize": 26, "labelColor": "black", "labelOffset": 12,
            "labelOverlap": false, "labelBaseline": "middle",
            "title": "γ", "titleOrient": "right", "titleAnchor": "middle", "titleAngle": 270,
            "titleAlign": "center", "titleBaseline": "middle",
            "titleFont": "Liberation Serif", "titleFontStyle": "italic", "titleFontSize": 32, "titleFontWeight": "normal",
            "titlePadding": 29, "titleColor": "black",
            "encode": {"labels": {"update": {"baseline": {"value": "middle"}}}}
          }
        }
      }
    },
    {
      "data": {"values": [{"z1": 0.012, "z2": 0.089, "y1": 0.3175, "y2": 0.4695}]},
      "mark": {"type": "rect", "fill": "transparent", "stroke": "black", "strokeWidth": 6, "cornerRadius": 3},
      "encoding": {
        "x": {"field": "z1", "type": "quantitative"},
        "x2": {"field": "z2"},
        "y": {"field": "y1", "type": "quantitative"},
        "y2": {"field": "y2"}
      }
    },
    {
      "data": {"values": [{}]},
      "mark": {"type": "rect", "fill": "transparent", "stroke": "black", "strokeWidth": 5},
      "encoding": {
        "x": {"datum": 0, "type": "quantitative"},
        "x2": {"datum": 1.6},
        "y": {"datum": 0.25, "type": "quantitative"},
        "y2": {"datum": 0.6}
      }
    }
  ]
}
